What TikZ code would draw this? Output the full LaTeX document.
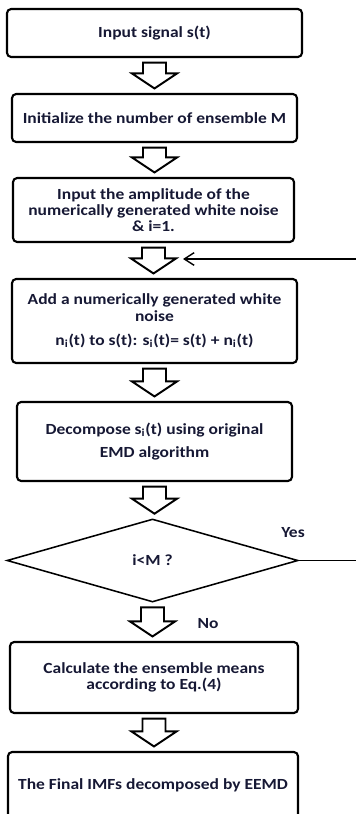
\documentclass[tikz,border=0pt]{standalone}
\usepackage{fontspec}
\setmainfont{Carlito}[FakeStretch=1.13]
\usetikzlibrary{calc,shapes.geometric,arrows.meta}
\definecolor{inknavy}{RGB}{22,24,52}
\tikzset{
  flowbox/.style={draw,line width=1.5pt,rounded corners=3pt,align=center,inner sep=0pt,
    font=\fontsize{11}{11.5}\selectfont\bfseries,text=inknavy},
  blockarr/.style={draw,line width=1.4pt,fill=white,line join=miter},
  flowlabel/.style={font=\fontsize{11}{11.5}\selectfont\bfseries,text=inknavy}
}
\newcommand{\hollowarrow}[2]{%
  \coordinate (ha-t) at ($(#1.south)+(0,4.5)$);
  \coordinate (ha-b) at ($(#2.north)+(0,-4.5)$);
  \coordinate (ha-p) at (ha-t |- ha-b);
  \draw[blockarr] ($(ha-t)+(-11.5,0)$) -- ($(ha-t)+(11.5,0)$) -- ($(ha-p)+(11.5,-15)$)
    -- ($(ha-p)+(22.5,-15)$) -- (ha-p) -- ($(ha-p)+(-22.5,-15)$) -- ($(ha-p)+(-11.5,-15)$) -- cycle;}

\begin{document}
\begin{tikzpicture}[x=0.025cm,y=-0.025cm]
\useasboundingbox (0,0) rectangle (355,814);

\node[flowbox,minimum width=7.375cm,minimum height=1.2cm] (input) at (154.5,33) {Input signal s(t)};
\node[flowbox,minimum width=7.125cm,minimum height=1.2cm] (init) at (154.5,118) {Initialize the number of ensemble M};
\node[flowbox,minimum width=7.025cm,minimum height=1.6cm] (ampl) at (153.5,210) {Input the amplitude of the\\numerically generated white noise\\\& i=1.};
\node[flowbox,minimum width=7.125cm,minimum height=2.1cm] (addnoise) at (154.5,321) {Add a numerically generated white\\noise\\[6pt]n\textsubscript{i}(t) to s(t): s\textsubscript{i}(t)= s(t) + n\textsubscript{i}(t)};
\node[flowbox,minimum width=6.875cm,minimum height=1.975cm] (decomp) at (154.5,441.5) {Decompose s\textsubscript{i}(t) using original\\[5pt]EMD algorithm};
\node[diamond,draw,line width=1.1pt,aspect=3.5,inner sep=0pt,minimum width=7.275cm,minimum height=2.075cm,flowlabel] (check) at (152.5,560.5) {i<M ?};
\node[flowbox,minimum width=7.2cm,minimum height=1.775cm] (means) at (154,677.5) {Calculate the ensemble means\\according to Eq.(4)};
\node[flowbox,minimum width=7.25cm,minimum height=1.65cm] (final) at (153,785) {The Final IMFs decomposed by EEMD};

\hollowarrow{input}{init}
\hollowarrow{init}{ampl}
\hollowarrow{ampl}{addnoise}
\hollowarrow{addnoise}{decomp}
\hollowarrow{decomp}{check}
\hollowarrow{check}{means}
\hollowarrow{means}{final}

\coordinate (loopin) at (183,259);
\draw[line width=1pt,-{Straight Barb[length=7pt,width=9pt]}] (check.east) -- (358,560.5) |- (loopin);
\node[flowlabel] (yes) at (293,533) {Yes};
\node[flowlabel] (no) at (208,624) {No};
\end{tikzpicture}
\end{document}
